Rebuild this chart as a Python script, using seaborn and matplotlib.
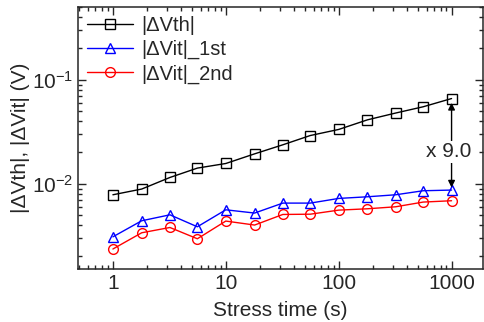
import numpy as np
import pandas as pd
import matplotlib
matplotlib.use("Agg")
import matplotlib.pyplot as plt
import seaborn as sns

# stress time (s)
stress_time = [1, 1.8, 3.2, 5.6, 10, 18, 32, 56, 100, 180, 320, 560, 1000]
# |dVth|, |dVit| 1st and 2nd (V)
dvth = [0.00784, 0.0089, 0.0115, 0.01415, 0.01567, 0.0194, 0.0237, 0.0291,
        0.0333, 0.0412, 0.0479, 0.055, 0.066]
dvit_1st = [0.00309, 0.00441, 0.00503, 0.00386, 0.00562, 0.00523, 0.00652,
            0.00652, 0.00723, 0.0075, 0.00784, 0.00857, 0.0087]
dvit_2nd = [0.00236, 0.00338, 0.0038, 0.00296, 0.00438, 0.00401, 0.00507,
            0.0051, 0.00558, 0.00575, 0.00601, 0.00667, 0.00687]
ratio_label = "x 9.0"

sns.set_style("ticks")
plt.rcParams['font.family'] = ['Liberation Sans', 'DejaVu Sans']
plt.rcParams['mathtext.fontset'] = 'custom'
plt.rcParams['mathtext.rm'] = 'Liberation Sans'
plt.rcParams['xtick.direction'] = 'in'
plt.rcParams['ytick.direction'] = 'in'

fig = plt.figure(figsize=(4.84, 3.22), dpi=100)
ax = fig.add_axes([0.161, 0.165, 0.837, 0.813])

series = [
    ("|\u0394Vth|", dvth, "black", "s"),
    ("|\u0394Vit|_1st", dvit_1st, "blue", "^"),
    ("|\u0394Vit|_2nd", dvit_2nd, "red", "o"),
]
for name, vals, col, mk in series:
    df = pd.DataFrame({"t": stress_time, "v": vals})
    sns.lineplot(data=df, x="t", y="v", ax=ax, color=col, marker=mk,
                 markersize=7, markerfacecolor="none", markeredgecolor=col,
                 markeredgewidth=1, linewidth=1, label=name)

ax.set_xscale("log")
ax.set_yscale("log")
ax.set_xlim(0.49, 1900)
ax.set_ylim(1.52e-3, 0.5)
ax.set_xticks([1, 10, 100, 1000])
ax.set_xticklabels(["1", "10", "100", "1000"])
ax.tick_params(which="both", top=True, right=True, labelsize=15, width=1)
ax.tick_params(which="major", length=6)
ax.tick_params(which="minor", length=3)
for s in ax.spines.values():
    s.set_linewidth(1.1)

ax.set_xlabel("Stress time (s)", fontsize=15, labelpad=6)
ax.set_ylabel("|\u0394Vth|, |\u0394Vit| (V)", fontsize=15, labelpad=1)

ax.annotate("", xy=(1000, 0.0092), xytext=(1000, 0.060),
            arrowprops=dict(arrowstyle="<|-|>", color="black", lw=1,
                            mutation_scale=10, shrinkA=0, shrinkB=0))
ax.text(935, 0.0203, ratio_label, fontsize=15, ha="center", va="center",
        bbox=dict(facecolor="white", edgecolor="none", pad=1))

leg = ax.legend(loc="upper left", frameon=False, fontsize=14.5,
                handlelength=2.3, handletextpad=0.4, labelspacing=0.25,
                borderpad=0.2, borderaxespad=0.25)

fig.savefig("out.png", dpi=100)
